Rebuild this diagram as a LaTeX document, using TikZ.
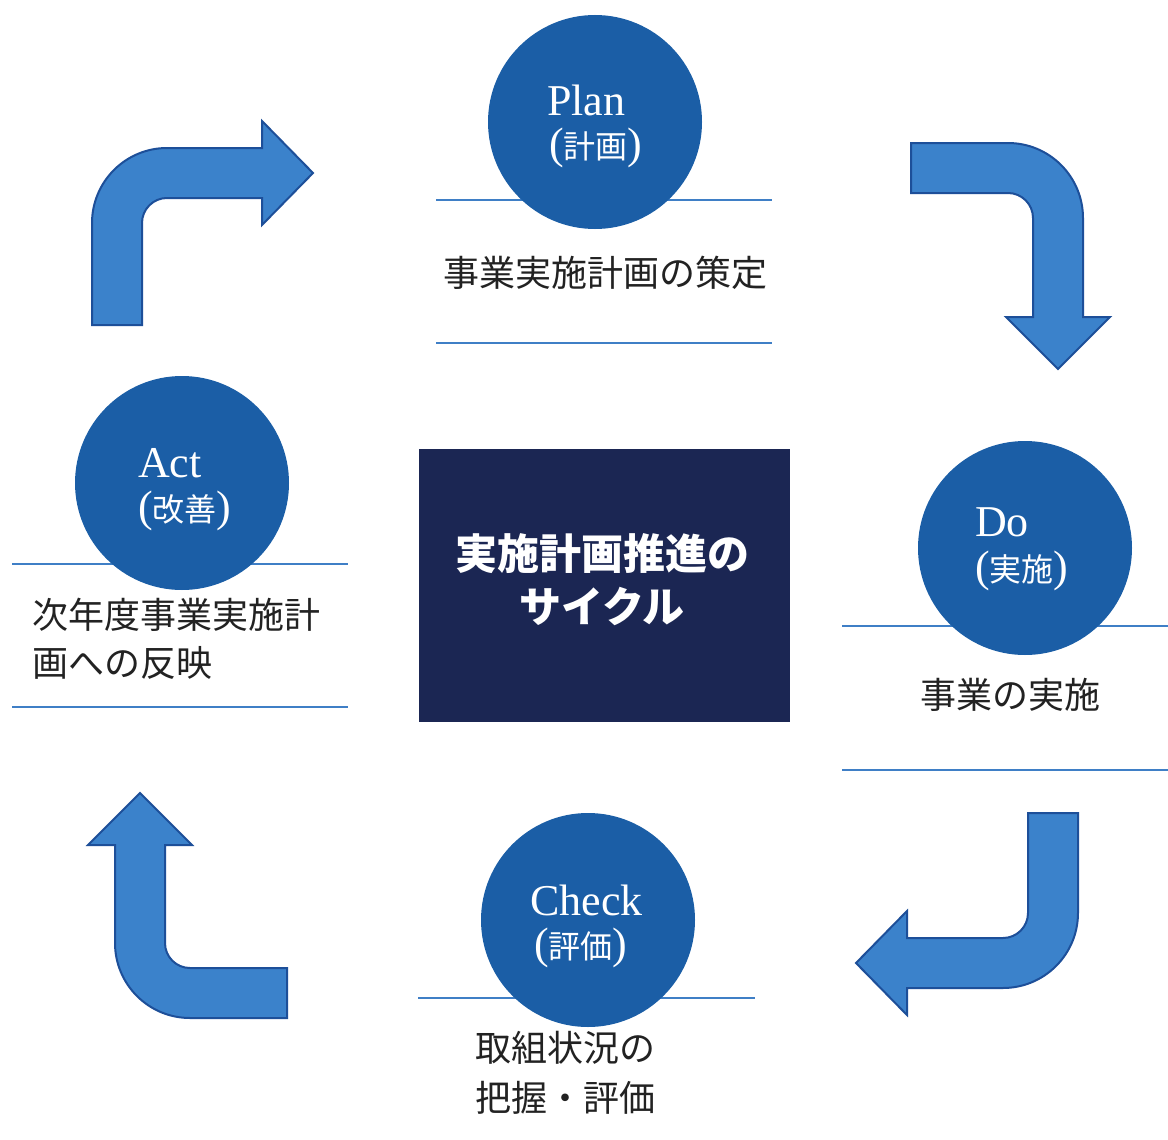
\documentclass[tikz,border=0pt]{standalone}
\usepackage{fontspec}
\setmainfont{Liberation Serif}
\newfontfamily\jp{Noto Sans CJK JP}
\definecolor{circblue}{HTML}{1B5EA6}
\definecolor{arrfill}{HTML}{3B82CB}
\definecolor{arrline}{HTML}{1D4F99}
\definecolor{navy}{HTML}{1B2653}
\definecolor{rule}{HTML}{3F7FC6}
\definecolor{txt}{HTML}{222222}
\tikzset{
  pdca/.style={circle, fill=circblue, draw=none, minimum size=214pt, inner sep=0pt},
  entxt/.style={text=white, inner sep=0pt, anchor=west, font=\fontsize{44}{48}\selectfont},
  jptxt/.style={text=white, inner sep=0pt, anchor=west, font=\fontsize{44}{48}\selectfont},
  lbl/.style={text=txt, inner sep=0pt, font=\jp\fontsize{36}{40}\selectfont},
  rulel/.style={draw=rule, line width=1.5pt},
  bigarrow/.style={fill=arrfill, draw=arrline, line width=2pt, line join=miter},
}
\newcommand{\jpc}{\jp\fontsize{32}{36}\selectfont}
\begin{document}
\begin{tikzpicture}[x=1pt,y=-1pt]
\useasboundingbox[fill=white] (0,0) rectangle (1168,1140);
% horizontal rules
\coordinate (p1a) at (436,200); \coordinate (p1b) at (772,200);
\coordinate (p2a) at (436,343); \coordinate (p2b) at (772,343);
\coordinate (a1a) at (12,564); \coordinate (a1b) at (348,564);
\coordinate (a2a) at (12,707); \coordinate (a2b) at (348,707);
\coordinate (d1a) at (842,626); \coordinate (d1b) at (1168,626);
\coordinate (d2a) at (842,770); \coordinate (d2b) at (1168,770);
\coordinate (c1a) at (418,998); \coordinate (c1b) at (755,998);
\draw[rulel] (p1a) -- (p1b);
\draw[rulel] (p2a) -- (p2b);
\draw[rulel] (a1a) -- (a1b);
\draw[rulel] (a2a) -- (a2b);
\draw[rulel] (d1a) -- (d1b);
\draw[rulel] (d2a) -- (d2b);
\draw[rulel] (c1a) -- (c1b);
% circles
\node[pdca] (plan) at (595,122) {};
\node[pdca] (act) at (182,483) {};
\node[pdca] (do) at (1025,548) {};
\node[pdca] (check) at (588,920) {};
% circle texts
\node[entxt] (plant) at (547,100) {Plan};
\node[jptxt] (planj) at (549,148) {({\jpc 計画})};
\node[entxt] (actt) at (138,463) {Act};
\node[jptxt] (actj) at (138,511) {({\jpc 改善})};
\node[entxt] (dot) at (975,522) {Do};
\node[jptxt] (doj) at (975,571) {({\jpc 実施})};
\node[entxt] (checkt) at (530,900) {Check};
\node[jptxt] (checkj) at (534,948) {({\jpc 評価})};
% labels
\node[lbl] (planl) at (605,273) {事業実施計画の策定};
\node[lbl, anchor=west] (actl1) at (32,615) {次年度事業実施計};
\node[lbl, anchor=west] (actl2) at (32,663) {画への反映};
\node[lbl] (dol) at (1010,695) {事業の実施};
\node[lbl, anchor=west] (checkl1) at (475,1048) {取組状況の};
\node[lbl, anchor=west] (checkl2) at (475,1098) {把握・評価};
% center box
\node[fill=navy, draw=none, minimum width=371pt, minimum height=273pt, inner sep=0pt] (center) at (604.5,585.5) {};
\node[text=white, align=center, inner sep=0pt, font=\jp\bfseries\fontsize{42}{53}\selectfont] (centert) at (602,580) {実施計画推進の\\サイクル};
% block arrows
\draw[bigarrow] (92,325) -- (92,223) .. controls (92,181.6) and (125.6,148) .. (167,148) -- (262,148) -- (262,121) -- (313,173) -- (262,225) -- (262,198) -- (167,198) .. controls (153.2,198) and (142,209.2) .. (142,223) -- (142,325) -- cycle;
\draw[bigarrow] (911,143) -- (1008,143) .. controls (1049.4,143) and (1083,176.6) .. (1083,218) -- (1083,317) -- (1110,317) -- (1058,369) -- (1006,317) -- (1033,317) -- (1033,218) .. controls (1033,204.2) and (1021.8,193) .. (1008,193) -- (911,193) -- cycle;
\draw[bigarrow] (1028,813) -- (1078,813) -- (1078,913) .. controls (1078,954.4) and (1044.4,988) .. (1003,988) -- (907,988) -- (907,1015) -- (856,963) -- (907,911) -- (907,938) -- (1003,938) .. controls (1016.8,938) and (1028,926.8) .. (1028,913) -- cycle;
\draw[bigarrow] (287,968) -- (287,1018) -- (190,1018) .. controls (148.6,1018) and (115,984.4) .. (115,943) -- (115,845) -- (88,845) -- (140,793) -- (192,845) -- (165,845) -- (165,943) .. controls (165,956.8) and (176.2,968) .. (190,968) -- cycle;
\end{tikzpicture}
\end{document}
